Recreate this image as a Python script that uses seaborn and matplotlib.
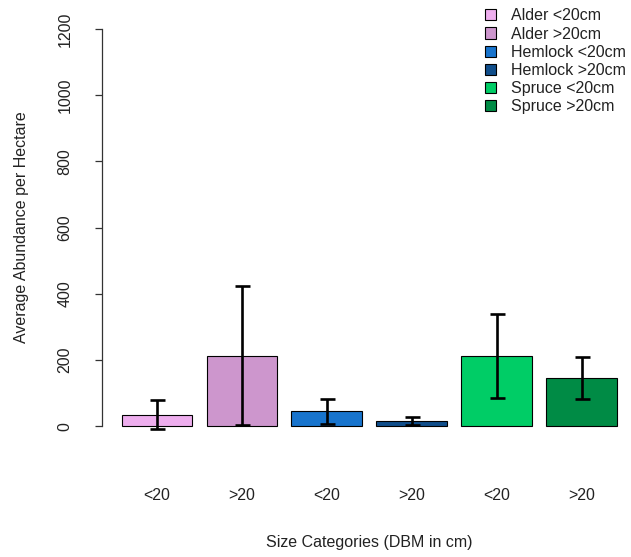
import numpy as np
import pandas as pd
import matplotlib
matplotlib.use("Agg")
import matplotlib.pyplot as plt
from matplotlib.patches import Patch
import seaborn as sns

# Mean abundance per hectare by species and size class, with error bar half-widths
groups = ["Alder <20cm", "Alder >20cm", "Hemlock <20cm", "Hemlock >20cm",
          "Spruce <20cm", "Spruce >20cm"]
size_labels = ["<20", ">20", "<20", ">20", "<20", ">20"]
means = [35, 212, 45, 15, 213, 145]
errors = [44, 210, 38, 13, 127, 64]
colors = ["#EEAEEE", "#CD96CD", "#1874CD", "#104E8B", "#00CD66", "#008B45"]
yticks = [0, 200, 400, 600, 800, 1000, 1200]

df = pd.DataFrame({"group": groups, "mean": means, "err": errors})

sns.set_style("white")
plt.rcParams["font.family"] = ["Liberation Sans", "DejaVu Sans"]
plt.rcParams["font.size"] = 11.5

fig = plt.figure(figsize=(6.31, 5.57), dpi=100)
ax = fig.add_axes([0.1613, 0.2065, 0.848, 0.770])

sns.barplot(data=df, x="group", y="mean", hue="group", order=groups,
            hue_order=groups, palette=colors, saturation=1, dodge=False,
            width=1 / 1.2, edgecolor="black", linewidth=0.8, legend=False,
            ax=ax)

pos = np.arange(len(groups))
ax.errorbar(pos, df["mean"], yerr=df["err"], fmt="none", ecolor="black",
            elinewidth=1.9, capsize=5.4, capthick=1.9, zorder=5)

ax.set_xlim(-0.65, 5.65)
ax.set_ylim(-48, 1248)
ax.set_yticks(yticks)
ax.set_yticklabels([str(t) for t in yticks], rotation=90, va="center",
                   color="#222222")
ax.set_xticks(pos)
ax.set_xticklabels(size_labels, color="#222222")

for s in ["top", "right", "bottom"]:
    ax.spines[s].set_visible(False)
ax.spines["left"].set_bounds(0, 1200)
ax.spines["left"].set_color("#333333")
ax.spines["left"].set_linewidth(0.9)
ax.tick_params(axis="y", length=5, width=0.9, color="#333333", pad=16,
               left=True)
ax.tick_params(axis="x", length=0, pad=33)

ax.set_xlabel("Size Categories (DBM in cm)", color="#222222", va="center")
ax.xaxis.set_label_coords(0.5, -0.235)
ax.set_ylabel("Average Abundance per Hectare", color="#222222", va="center")
ax.yaxis.set_label_coords(-0.15, 0.5)

handles = [Patch(facecolor=c, edgecolor="black", linewidth=0.8, label=g)
           for g, c in zip(groups, colors)]
ax.legend(handles=handles, loc="upper left", bbox_to_anchor=(0.716, 1.011),
          frameon=False, handlelength=0.7, handleheight=0.7,
          handletextpad=0.95, labelspacing=0.2, borderaxespad=0.0,
          borderpad=0.0, labelcolor="#222222")

fig.savefig("out.png", dpi=100, facecolor="white")
